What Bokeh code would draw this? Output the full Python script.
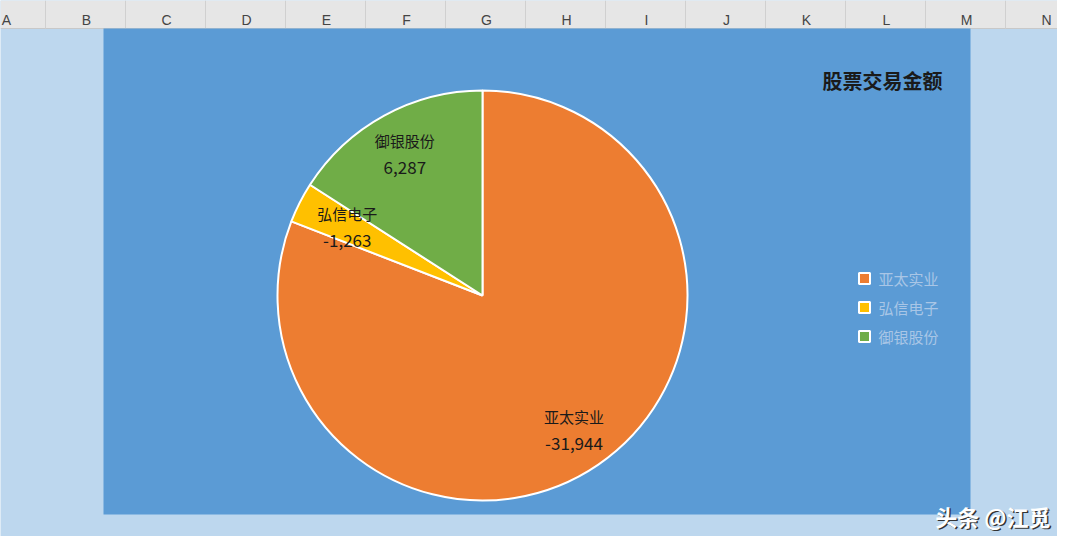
import math
from bokeh.plotting import figure
from bokeh.models import Range1d, ColumnDataSource
from bokeh.core.properties import value
from bokeh.embed import file_html
from bokeh.resources import INLINE

# ---- data ----
categories = ["亚太实业", "弘信电子", "御银股份"]
amounts = [-31944, -1263, 6287]
amount_labels = ["-31,944", "-1,263", "6,287"]
colors = ["#ED7D31", "#FFC000", "#70AD47"]
title_text = "股票交易金额"
columns = ["A", "B", "C", "D", "E", "F", "G", "H", "I", "J", "K", "L", "M", "N"]
watermark = "头条 @江觅"

# ---- layout (reference pixel coordinates) ----
W, H = 1057, 536
CJK = value("Noto Sans CJK SC")


def Y(ry):
    return 552 - ry


p = figure(width=W, height=H, output_backend="svg", toolbar_location=None,
           x_range=Range1d(0, W), y_range=Range1d(552 - H, 552),
           min_border=0, background_fill_color="#BDD7EE", border_fill_color="#BDD7EE")
p.axis.visible = False
p.grid.visible = False
p.outline_line_color = None

# spreadsheet header row
p.quad(left=0, right=1073, top=Y(0), bottom=Y(28), fill_color="#E6E6E6", line_color=None)
p.segment(x0=0, y0=Y(28), x1=1073, y1=Y(28), line_color="#C8C8C8", line_width=1)
col_w = 80
sep_x = [45 + i * col_w for i in range(len(columns) - 1)]
p.segment(x0=sep_x, y0=[Y(0)] * len(sep_x), x1=sep_x, y1=[Y(28)] * len(sep_x),
          line_color="#D0D0D0", line_width=1)
col_x = [6 + i * col_w for i in range(len(columns))]
p.text(x=col_x, y=[Y(19)] * len(columns), text=columns, text_align="center",
       text_baseline="middle", text_font=value("Liberation Sans"),
       text_font_size="14px", text_color="#444444")

# chart area
p.quad(left=103, right=970, top=Y(28), bottom=Y(514), fill_color="#5B9BD5", line_color=None)

# pie
cx, cy, R = 482, Y(295), 205
absvals = [abs(v) for v in amounts]
total = sum(absvals)
starts, ends, mids = [], [], []
cum = 0.0
for v in absvals:
    a0 = math.pi / 2 - cum / total * 2 * math.pi
    cum += v
    a1 = math.pi / 2 - cum / total * 2 * math.pi
    starts.append(a0)
    ends.append(a1)
    mids.append((a0 + a1) / 2)

src = ColumnDataSource(dict(start=starts, end=ends, color=colors))
p.wedge(x=cx, y=cy, radius=R, start_angle="start", end_angle="end", direction="clock",
        fill_color="color", line_color="white", line_width=2, source=src)

# data labels
lab_frac = [0.79, 0.74, 0.79]
lx = [cx + f * R * math.cos(m) for f, m in zip(lab_frac, mids)]
ly = [cy + f * R * math.sin(m) for f, m in zip(lab_frac, mids)]
p.text(x=lx, y=[v + 13 for v in ly], text=categories, text_align="center",
       text_baseline="middle", text_font=CJK, text_font_size="15px", text_color="#1A1A1A")
p.text(x=lx, y=[v - 14 for v in ly], text=amount_labels, text_align="center",
       text_baseline="middle", text_font=CJK, text_font_size="17px", text_color="#1A1A1A")

# title
p.text(x=[942], y=[Y(80)], text=[title_text], text_align="right", text_baseline="middle",
       text_font=CJK, text_font_size="20px", text_font_style="bold", text_color="#1A1A1A")

# legend
leg_y = [Y(278 + 29 * i) for i in range(len(categories))]
p.rect(x=[864] * len(categories), y=leg_y, width=11, height=11, fill_color=colors,
       line_color="white", line_width=2)
p.text(x=[878] * len(categories), y=leg_y, text=categories, text_align="left",
       text_baseline="middle", text_font=CJK, text_font_size="15px", text_color="#A9C6E6")

# watermark
p.text(x=[1050], y=[Y(515)], text=[watermark], text_align="right", text_baseline="middle",
       text_font=CJK, text_font_size="22px", text_font_style="bold", text_color="#333333",
       x_offset=1.5, y_offset=1.5)
p.text(x=[1050], y=[Y(515)], text=[watermark], text_align="right", text_baseline="middle",
       text_font=CJK, text_font_size="22px", text_font_style="bold", text_color="white")

open("out.html", "w").write(file_html(p, INLINE))
